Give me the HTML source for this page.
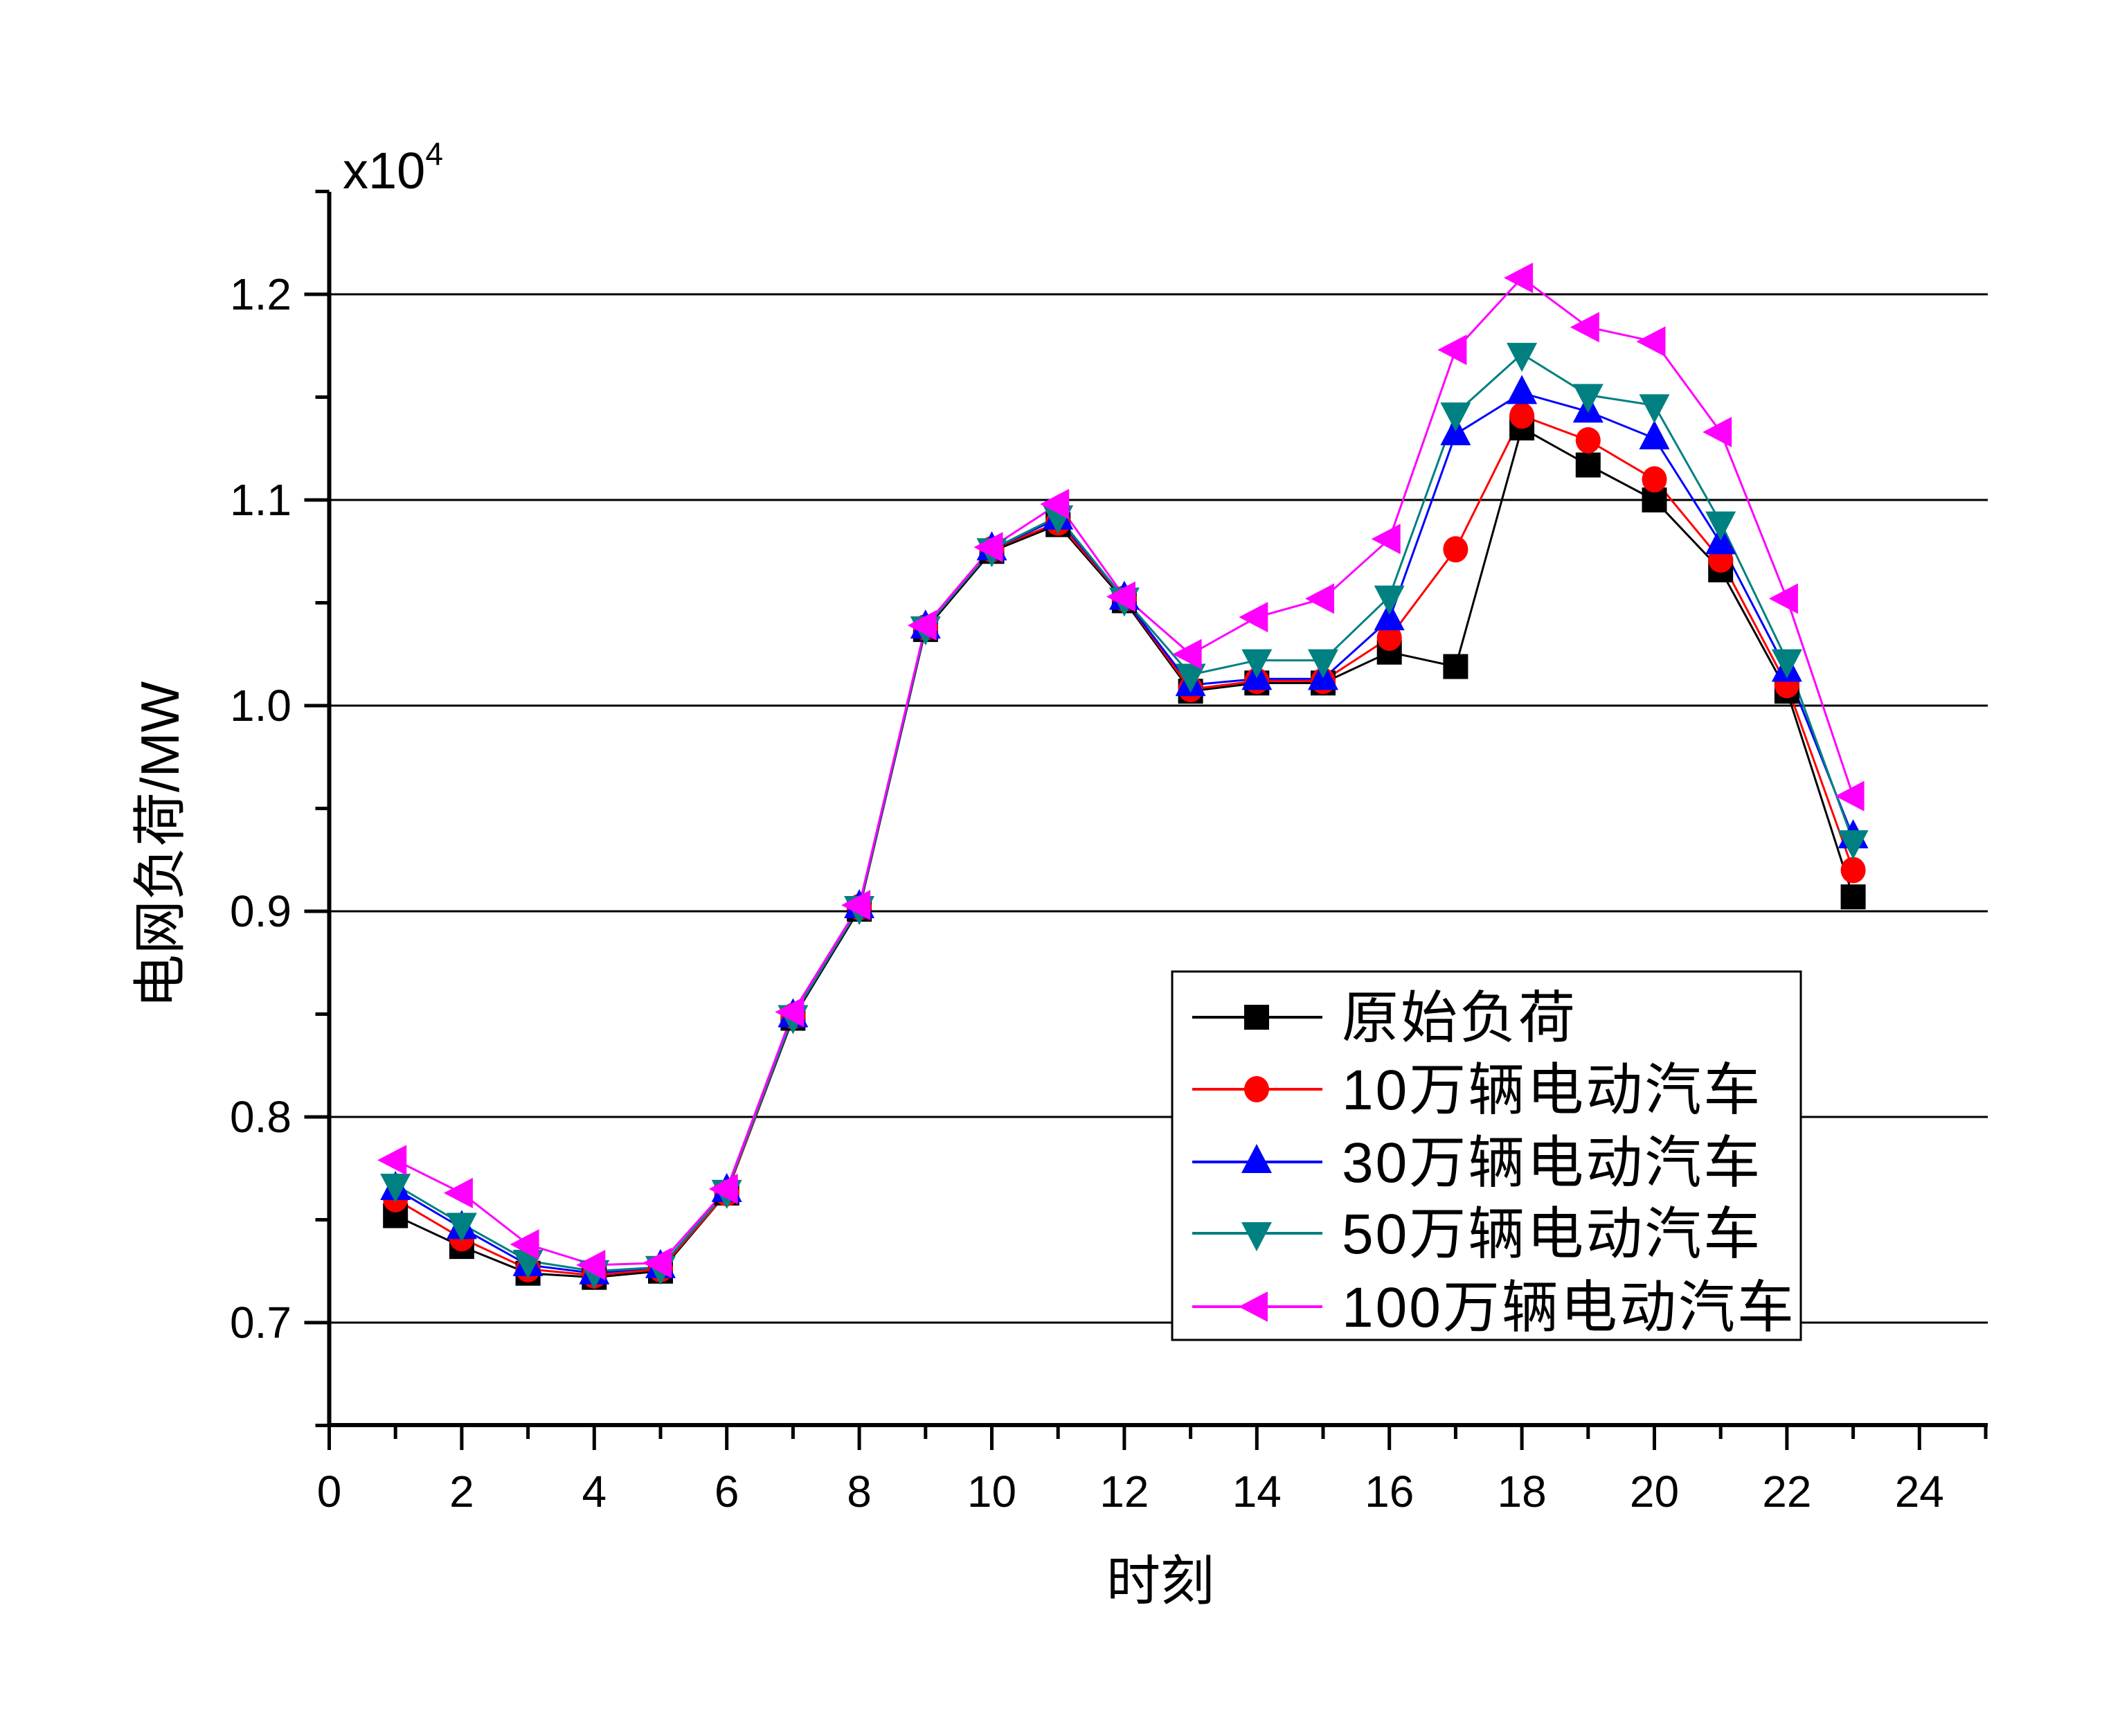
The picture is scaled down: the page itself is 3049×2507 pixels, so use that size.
<!DOCTYPE html>
<html><head><meta charset="utf-8"><style>html,body{margin:0;padding:0;background:#fff}svg{display:block}</style></head>
<body>
<svg id="s" xmlns="http://www.w3.org/2000/svg" width="3049" height="2507" viewBox="0 0 3049 2507" font-family="Liberation Sans, Noto Sans CJK SC, sans-serif">
<rect width="3049" height="2507" fill="#fff"/>
<g id="grid" stroke="#000" stroke-width="3"></g>
<g id="axes"></g>
<g id="series"></g>
<g id="legend"></g>
</svg>
<script>
var NS="http://www.w3.org/2000/svg";
function el(p,t,a,txt){var e=document.createElementNS(NS,t);for(var k in a)e.setAttribute(k,a[k]);if(txt!=null)e.textContent=txt;p.appendChild(e);return e;}
var X0=475.5,XU=95.7,Y07=1910,YU=2970;
function X(h){return X0+h*XU;}
function Y(v){return Y07-(v-0.7)*YU;}
var grid=document.getElementById('grid'),axes=document.getElementById('axes'),ser=document.getElementById('series'),leg=document.getElementById('legend');
var xR=2871,yB=2058,yT=277;
for(var i=0;i<6;i++){var v=0.7+i*0.1;el(grid,'line',{x1:X0,x2:xR,y1:Y(v),y2:Y(v)});}
el(axes,'line',{x1:X0,x2:X0,y1:yT,y2:yB+3,stroke:'#000','stroke-width':6});
el(axes,'line',{x1:X0-3,x2:xR,y1:yB,y2:yB,stroke:'#000','stroke-width':6});
for(var v=0.65;v<1.26;v+=0.05){var maj=Math.abs(Math.round(v*10)-v*10)<0.01;el(axes,'line',{x1:X0-(maj?36:20),x2:X0,y1:Y(v),y2:Y(v),stroke:'#000','stroke-width':5});
 if(maj&&v>0.69&&v<1.21)el(axes,'text',{x:421,y:Y(v)+22,'text-anchor':'end','font-size':64},v.toFixed(1));}
for(var h=0;h<=25;h++){var maj=h%2==0;el(axes,'line',{x1:X(h),x2:X(h),y1:yB,y2:yB+(maj?36:20),stroke:'#000','stroke-width':5});
 if(maj)el(axes,'text',{x:X(h),y:2176,'text-anchor':'middle','font-size':64},String(h));}
var t=el(axes,'text',{x:495,y:272,'font-size':74},'x10');el(t,'tspan',{dy:-34,'font-size':46},'4');
el(axes,'text',{x:1676,y:2310,'text-anchor':'middle','font-size':78},'时刻');
el(axes,'text',{x:0,y:0,'text-anchor':'middle','font-size':78,transform:'translate(258,1220) rotate(-90)'},'电网负荷/MW');
var D=[
['#000','sq',[0.752,0.737,0.724,0.722,0.725,0.763,0.848,0.901,1.037,1.075,1.088,1.051,1.007,1.011,1.011,1.026,1.019,1.135,1.117,1.100,1.066,1.007,0.907],'原始负荷'],
['#f00','ci',[0.760,0.741,0.726,0.723,0.726,0.763,0.849,0.902,1.038,1.076,1.089,1.052,1.008,1.012,1.012,1.033,1.076,1.141,1.129,1.110,1.071,1.010,0.920],'10万辆电动汽车'],
['#00f','up',[0.765,0.746,0.728,0.724,0.727,0.764,0.849,0.902,1.038,1.076,1.091,1.052,1.010,1.013,1.013,1.042,1.132,1.152,1.143,1.130,1.079,1.017,0.936],'30万辆电动汽车'],
['#008080','dn',[0.767,0.748,0.730,0.725,0.727,0.764,0.849,0.902,1.038,1.076,1.092,1.052,1.015,1.022,1.022,1.053,1.142,1.171,1.151,1.146,1.089,1.022,0.934],'50万辆电动汽车'],
['#f0f','lf',[0.779,0.763,0.738,0.728,0.729,0.765,0.851,0.903,1.039,1.077,1.098,1.053,1.025,1.043,1.052,1.081,1.173,1.208,1.184,1.177,1.133,1.052,0.956],'100万辆电动汽车']];
function mk(g,type,x,y,c){
 if(type=='sq')el(g,'rect',{x:x-18,y:y-18,width:36,height:36,fill:c});
 else if(type=='ci')el(g,'ellipse',{cx:x,cy:y,rx:18,ry:19,fill:c});
 else if(type=='up')el(g,'polygon',{points:(x)+','+(y-26)+' '+(x-22)+','+(y+16)+' '+(x+22)+','+(y+16),fill:c});
 else if(type=='dn')el(g,'polygon',{points:(x)+','+(y+26)+' '+(x-22)+','+(y-16)+' '+(x+22)+','+(y-16),fill:c});
 else el(g,'polygon',{points:(x-26)+','+y+' '+(x+16)+','+(y-22)+' '+(x+16)+','+(y+22),fill:c});
}
D.forEach(function(d){var pts=d[2].map(function(v,i){return X(i+1)+','+Y(v);}).join(' ');
 el(ser,'polyline',{points:pts,fill:'none',stroke:d[0],'stroke-width':3});});
D.forEach(function(d){d[2].forEach(function(v,i){mk(ser,d[1],X(i+1),Y(v),d[0]);});});
el(leg,'rect',{x:1693,y:1403,width:908,height:532,fill:'#fff',stroke:'#000','stroke-width':3});
var rows=[1469,1573,1678,1781,1887];
D.forEach(function(d,i){var y=rows[i];el(leg,'line',{x1:1722,x2:1910,y1:y,y2:y,stroke:d[0],'stroke-width':4});mk(leg,d[1],1815,y,d[0]);
 el(leg,'text',{x:1938,y:y+29,'font-size':82,'letter-spacing':3},d[3]);});
</script>
</body></html>
